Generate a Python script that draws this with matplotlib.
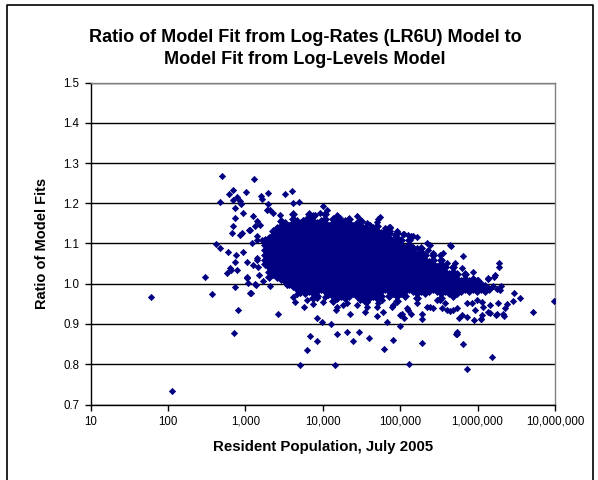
import matplotlib
matplotlib.use("Agg")
import matplotlib.pyplot as plt
from matplotlib.lines import Line2D
from matplotlib.ticker import FixedLocator, FuncFormatter, FormatStrFormatter, NullLocator

plt.rcParams['font.family'] = ['Liberation Sans', 'DejaVu Sans']

# dense middle of the cloud: one population value per column, ratios
core_pop = [1800, 2030, 2290, 2580, 2900, 3270, 3680, 4140, 4670, 5250,
            5910, 6660, 7500, 8440, 9500, 10700, 12050, 13570, 15280, 17200,
            19370, 21810, 24560, 27650, 31140, 35060, 39480, 44450, 50050, 56360,
            63460, 71460, 80460, 90600, 102000, 114900, 129300, 145600, 164000, 184600,
            207900, 234100, 263600, 296800, 334200, 376300, 423700, 477100, 537200, 604900,
            681100, 766900, 863500, 972300, 1094800, 1232700, 1388000]

core_ratio = [
    [1.048, 1.060, 1.072, 1.084, 1.096, 1.108],
    [1.018, 1.030, 1.042, 1.054, 1.066, 1.078, 1.090, 1.102, 1.114],
    [1.024, 1.036, 1.048, 1.060, 1.072, 1.084, 1.096, 1.108, 1.120, 1.132],
    [1.018, 1.030, 1.042, 1.054, 1.066, 1.078, 1.090, 1.102, 1.114, 1.126, 1.138],
    [1.012, 1.024, 1.036, 1.048, 1.060, 1.072, 1.084, 1.096, 1.108, 1.120, 1.132, 1.144, 1.156],
    [1.006, 1.018, 1.030, 1.042, 1.054, 1.066, 1.078, 1.090, 1.102, 1.114, 1.126, 1.138, 1.150],
    [1.000, 1.012, 1.024, 1.036, 1.048, 1.060, 1.072, 1.084, 1.096, 1.108, 1.120, 1.132, 1.144],
    [0.994, 1.006, 1.018, 1.030, 1.042, 1.054, 1.066, 1.078, 1.090, 1.102, 1.114, 1.126, 1.138, 1.150, 1.162, 1.174],
    [0.988, 1.000, 1.012, 1.024, 1.036, 1.048, 1.060, 1.072, 1.084, 1.096, 1.108, 1.120, 1.132, 1.144, 1.156],
    [0.982, 0.994, 1.006, 1.018, 1.030, 1.042, 1.054, 1.066, 1.078, 1.090, 1.102, 1.114, 1.126, 1.138, 1.150],
    [0.976, 0.988, 1.000, 1.012, 1.024, 1.036, 1.048, 1.060, 1.072, 1.084, 1.096, 1.108, 1.120, 1.132, 1.144, 1.156],
    [0.982, 0.994, 1.006, 1.018, 1.030, 1.042, 1.054, 1.066, 1.078, 1.090, 1.102, 1.114, 1.126, 1.138, 1.150, 1.162, 1.174],
    [0.964, 0.976, 0.988, 1.000, 1.012, 1.024, 1.036, 1.048, 1.060, 1.072, 1.084, 1.096, 1.108, 1.120, 1.132, 1.144, 1.156, 1.168],
    [0.970, 0.982, 0.994, 1.006, 1.018, 1.030, 1.042, 1.054, 1.066, 1.078, 1.090, 1.102, 1.114, 1.126, 1.138, 1.150],
    [0.988, 1.000, 1.012, 1.024, 1.036, 1.048, 1.060, 1.072, 1.084, 1.096, 1.108, 1.120, 1.132, 1.144, 1.156],
    [0.982, 0.994, 1.006, 1.018, 1.030, 1.042, 1.054, 1.066, 1.078, 1.090, 1.102, 1.114, 1.126, 1.138, 1.150, 1.162, 1.174],
    [0.976, 0.988, 1.000, 1.012, 1.024, 1.036, 1.048, 1.060, 1.072, 1.084, 1.096, 1.108, 1.120, 1.132, 1.144],
    [0.958, 0.970, 0.982, 0.994, 1.006, 1.018, 1.030, 1.042, 1.054, 1.066, 1.078, 1.090, 1.102, 1.114, 1.126, 1.138, 1.150, 1.162],
    [0.964, 0.976, 0.988, 1.000, 1.012, 1.024, 1.036, 1.048, 1.060, 1.072, 1.084, 1.096, 1.108, 1.120, 1.132, 1.144, 1.156, 1.168],
    [0.970, 0.982, 0.994, 1.006, 1.018, 1.030, 1.042, 1.054, 1.066, 1.078, 1.090, 1.102, 1.114, 1.126, 1.138, 1.150],
    [0.964, 0.976, 0.988, 1.000, 1.012, 1.024, 1.036, 1.048, 1.060, 1.072, 1.084, 1.096, 1.108, 1.120, 1.132, 1.144, 1.156],
    [0.970, 0.982, 0.994, 1.006, 1.018, 1.030, 1.042, 1.054, 1.066, 1.078, 1.090, 1.102, 1.114, 1.126, 1.138, 1.150, 1.162],
    [0.976, 0.988, 1.000, 1.012, 1.024, 1.036, 1.048, 1.060, 1.072, 1.084, 1.096, 1.108, 1.120, 1.132, 1.144],
    [0.970, 0.982, 0.994, 1.006, 1.018, 1.030, 1.042, 1.054, 1.066, 1.078, 1.090, 1.102, 1.114, 1.126, 1.138, 1.150],
    [0.964, 0.976, 0.988, 1.000, 1.012, 1.024, 1.036, 1.048, 1.060, 1.072, 1.084, 1.096, 1.108, 1.120, 1.132, 1.144, 1.156],
    [0.958, 0.970, 0.982, 0.994, 1.006, 1.018, 1.030, 1.042, 1.054, 1.066, 1.078, 1.090, 1.102, 1.114, 1.126, 1.138],
    [0.964, 0.976, 0.988, 1.000, 1.012, 1.024, 1.036, 1.048, 1.060, 1.072, 1.084, 1.096, 1.108, 1.120, 1.132],
    [0.970, 0.982, 0.994, 1.006, 1.018, 1.030, 1.042, 1.054, 1.066, 1.078, 1.090, 1.102, 1.114, 1.126, 1.138],
    [0.964, 0.976, 0.988, 1.000, 1.012, 1.024, 1.036, 1.048, 1.060, 1.072, 1.084, 1.096, 1.108, 1.120, 1.132, 1.144],
    [0.970, 0.982, 0.994, 1.006, 1.018, 1.030, 1.042, 1.054, 1.066, 1.078, 1.090, 1.102, 1.114, 1.126],
    [0.988, 1.000, 1.012, 1.024, 1.036, 1.048, 1.060, 1.072, 1.084, 1.096, 1.108, 1.120, 1.132],
    [0.970, 0.982, 0.994, 1.006, 1.018, 1.030, 1.042, 1.054, 1.066, 1.078, 1.090, 1.102, 1.114, 1.126, 1.138],
    [0.976, 0.988, 1.000, 1.012, 1.024, 1.036, 1.048, 1.060, 1.072, 1.084, 1.096, 1.108],
    [0.958, 0.970, 0.982, 0.994, 1.006, 1.018, 1.030, 1.042, 1.054, 1.066, 1.078, 1.090, 1.102, 1.114, 1.126],
    [0.976, 0.988, 1.000, 1.012, 1.024, 1.036, 1.048, 1.060, 1.072, 1.084, 1.096, 1.108],
    [0.970, 0.982, 0.994, 1.006, 1.018, 1.030, 1.042, 1.054, 1.066, 1.078, 1.090],
    [0.988, 1.000, 1.012, 1.024, 1.036, 1.048, 1.060, 1.072, 1.084, 1.096, 1.108],
    [0.982, 0.994, 1.006, 1.018, 1.030, 1.042, 1.054, 1.066, 1.078, 1.090],
    [0.964, 0.976, 0.988, 1.000, 1.012, 1.024, 1.036, 1.048, 1.060, 1.072],
    [0.982, 0.994, 1.006, 1.018, 1.030, 1.042, 1.054, 1.066, 1.078, 1.090],
    [0.976, 0.988, 1.000, 1.012, 1.024, 1.036, 1.048, 1.060, 1.072],
    [0.982, 0.994, 1.006, 1.018, 1.030, 1.042, 1.054],
    [0.988, 1.000, 1.012, 1.024, 1.036, 1.048, 1.060, 1.072],
    [0.982, 0.994, 1.006, 1.018, 1.030, 1.042],
    [0.964, 0.976, 0.988, 1.000, 1.012, 1.024, 1.036, 1.048, 1.060],
    [0.982, 0.994, 1.006, 1.018, 1.030, 1.042],
    [0.976, 0.988, 1.000, 1.012, 1.024],
    [0.970, 0.982, 0.994, 1.006, 1.018, 1.030, 1.042],
    [0.976, 0.988, 1.000, 1.012, 1.024],
    [0.982, 0.994, 1.006],
    [0.988, 1.000, 1.012, 1.024],
    [0.982, 0.994, 1.006],
    [0.988, 1.000, 1.012],
    [0.982, 0.994, 1.006],
    [0.988, 1.000],
    [0.982, 0.994],
    [0.988],
]

# scattered places: edges of the cloud and outliers
pop_sparse = [60, 114, 302, 370, 416, 473, 473, 498, 575, 606,
              624, 631, 660, 670, 683, 692, 702, 716, 741, 741,
              741, 741, 762, 776, 791, 800, 851, 857, 885, 898,
              946, 946, 1024, 1045, 1045, 1064, 1096, 1122, 1153, 1153,
              1175, 1210, 1245, 1274, 1310, 1340, 1340, 1380, 1406, 1406,
              1406, 1429, 1429, 1470, 1520, 1549, 1585, 1633, 1633, 1683,
              1892, 1986, 1986, 2089, 2089, 2307, 2673, 2813, 3265, 3428,
              3981, 4170, 4180, 4400, 4620, 4870, 5090, 5093, 5620, 5740,
              6210, 6210, 6210, 6860, 6860, 7570, 7960, 8370, 8370, 8370,
              9230, 9890, 10190, 10190, 10700, 11270, 11800, 12690, 14420, 14860,
              15150, 15460, 15460, 16700, 18450, 20400, 20400, 20770, 22500, 24360,
              27500, 27500, 29700, 30300, 30300, 35200, 37000, 37000, 37000, 39900,
              40800, 45000, 49700, 49800, 50700, 52200, 52200, 54800, 57800, 60600,
              62400, 63700, 67600, 73800, 73800, 77600, 80000, 81500, 85700, 90100,
              100000, 100000, 104500, 109600, 112000, 113000, 121300, 127400, 127400, 127400,
              131000, 137000, 137700, 147900, 163300, 163300, 166300, 189000, 189000, 189000,
              219800, 220000, 230700, 242700, 242700, 262000, 268000, 296000, 326600, 326600,
              343000, 360600, 379000, 398000, 398000, 439000, 440000, 449000, 484000, 509000,
              520000, 536000, 536000, 546000, 579000, 622000, 633000, 652000, 652000, 686000,
              721000, 721000, 734000, 837000, 877000, 895000, 923000, 970000, 1019000, 1094000,
              1104000, 1127000, 1127000, 1180000, 1346000, 1371000, 1371000, 1442000, 1442000, 1543000,
              1563000, 1637000, 1671000, 1722000, 1758000, 1760000, 1845000, 1883000, 1901000, 1941000,
              1982000, 2138000, 2200000, 2250000, 2367000, 2830000, 2940000, 3515000, 5210000, 9730000]

ratio_sparse = [0.968, 0.734, 1.016, 0.974, 1.099, 1.088, 1.203, 1.268, 1.026, 1.078,
                1.224, 1.039, 1.034, 1.126, 1.209, 1.144, 1.234, 0.878, 1.188, 1.163,
                1.055, 0.992, 1.072, 1.034, 1.216, 0.936, 1.122, 1.205, 1.197, 1.126,
                1.176, 1.080, 1.228, 1.055, 1.014, 1.016, 1.001, 1.133, 1.134, 0.976,
                0.978, 1.101, 1.047, 1.168, 1.261, 1.143, 0.999, 0.997, 1.155, 1.118,
                1.064, 1.109, 1.059, 1.041, 1.022, 1.147, 1.219, 1.211, 1.109, 1.008,
                1.184, 1.226, 1.197, 1.184, 0.994, 1.176, 0.926, 1.172, 1.224, 0.997,
                1.230, 1.201, 0.968, 0.955, 0.974, 1.203, 0.976, 0.799, 1.159, 0.943,
                1.164, 0.959, 0.836, 1.168, 0.870, 0.949, 1.172, 0.964, 0.916, 0.857,
                1.176, 0.905, 1.193, 0.954, 0.968, 1.183, 0.972, 0.899, 0.799, 0.934,
                0.943, 1.155, 0.874, 1.164, 0.947, 1.143, 0.951, 0.881, 0.924, 0.857,
                1.168, 0.947, 0.881, 1.159, 0.959, 0.930, 1.151, 0.955, 0.943, 0.866,
                1.147, 1.139, 1.153, 0.943, 0.919, 1.161, 0.951, 1.166, 0.959, 0.930,
                0.839, 1.139, 0.905, 1.140, 1.130, 0.943, 0.860, 0.947, 1.122, 1.130,
                0.894, 0.922, 0.926, 1.124, 0.916, 1.124, 0.939, 1.122, 1.093, 0.934,
                0.801, 0.926, 1.119, 1.118, 1.089, 0.951, 1.116, 0.926, 0.912, 0.854,
                1.101, 0.943, 1.084, 1.097, 0.943, 0.939, 1.076, 0.959, 1.072, 0.959,
                0.939, 1.076, 0.951, 1.051, 0.934, 1.097, 0.933, 1.095, 0.934, 1.051,
                0.874, 0.939, 0.874, 0.879, 0.916, 0.922, 1.039, 1.068, 0.850, 1.022,
                0.951, 0.918, 0.788, 0.951, 1.030, 0.909, 0.934, 0.959, 1.009, 0.913,
                0.912, 0.955, 0.922, 0.943, 1.011, 1.014, 0.929, 0.947, 0.928, 0.819,
                0.994, 1.016, 1.022, 0.922, 0.924, 0.988, 0.951, 1.051, 1.041, 0.984,
                0.994, 0.926, 0.919, 0.939, 0.949, 0.957, 0.976, 0.964, 0.930, 0.957]

y_ticks = [0.7, 0.8, 0.9, 1.0, 1.1, 1.2, 1.3, 1.4, 1.5]
x_ticks = [10, 100, 1000, 10000, 100000, 1000000, 10000000]

pop_core = []
ratio_core = []
for p, rs in zip(core_pop, core_ratio):
    pop_core += [p] * len(rs)
    ratio_core += rs

fig = plt.figure(figsize=(5.98, 4.80), dpi=100)
ax = fig.add_axes([90.5 / 598, 1 - 404.5 / 480, (555 - 90.5) / 598, (404.5 - 82.5) / 480])

navy = '#000080'
ax.plot(pop_core, ratio_core, linestyle='none', marker='D', markersize=3.6,
        color=navy, markeredgecolor=navy, markeredgewidth=0.5, zorder=3)
ax.plot(pop_sparse, ratio_sparse, linestyle='none', marker='D', markersize=3.2,
        color=navy, markeredgecolor=navy, markeredgewidth=0.5, zorder=3)

ax.set_xscale('log')
ax.set_xlim(10, 10000000)
ax.set_ylim(0.7, 1.5)
ax.xaxis.set_major_locator(FixedLocator(x_ticks))
ax.xaxis.set_minor_locator(NullLocator())
ax.xaxis.set_major_formatter(FuncFormatter(lambda v, pos: f'{int(round(v)):,}'))
ax.yaxis.set_major_locator(FixedLocator(y_ticks))
ax.yaxis.set_major_formatter(FormatStrFormatter('%.1f'))

ax.set_axisbelow(True)
ax.yaxis.grid(True, color='black', linewidth=1.0)
ax.spines['top'].set_color('#808080')
ax.spines['right'].set_color('#808080')
ax.spines['left'].set_color('black')
ax.spines['bottom'].set_color('black')
for s in ax.spines.values():
    s.set_linewidth(1.0)
ax.tick_params(axis='both', direction='out', length=4, width=1, color='black',
               labelsize=8.3, pad=4)

# two-line title, centred on the whole chart box
fig.text(305 / 598, 1 - 38 / 480, 'Ratio of Model Fit from Log-Rates (LR6U) Model to',
         ha='center', va='center', fontsize=13, fontweight='bold')
fig.text(305 / 598, 1 - 60 / 480, 'Model Fit from Log-Levels Model',
         ha='center', va='center', fontsize=13, fontweight='bold')

ax.set_xlabel('Resident Population, July 2005', fontsize=10.8, fontweight='bold', labelpad=9)
ax.set_ylabel('Ratio of Model Fits', fontsize=10.5, fontweight='bold', labelpad=10)

# outer chart border (bottom edge is cut off in the picture)
bx0, bx1, by1 = 6.5 / 598, 592.5 / 598, 1 - 4.5 / 480
fig.add_artist(Line2D([bx0, bx0, bx1, bx1], [0, by1, by1, 0],
                      transform=fig.transFigure, color='black', linewidth=1.2))

fig.savefig('out.png', dpi=100)
